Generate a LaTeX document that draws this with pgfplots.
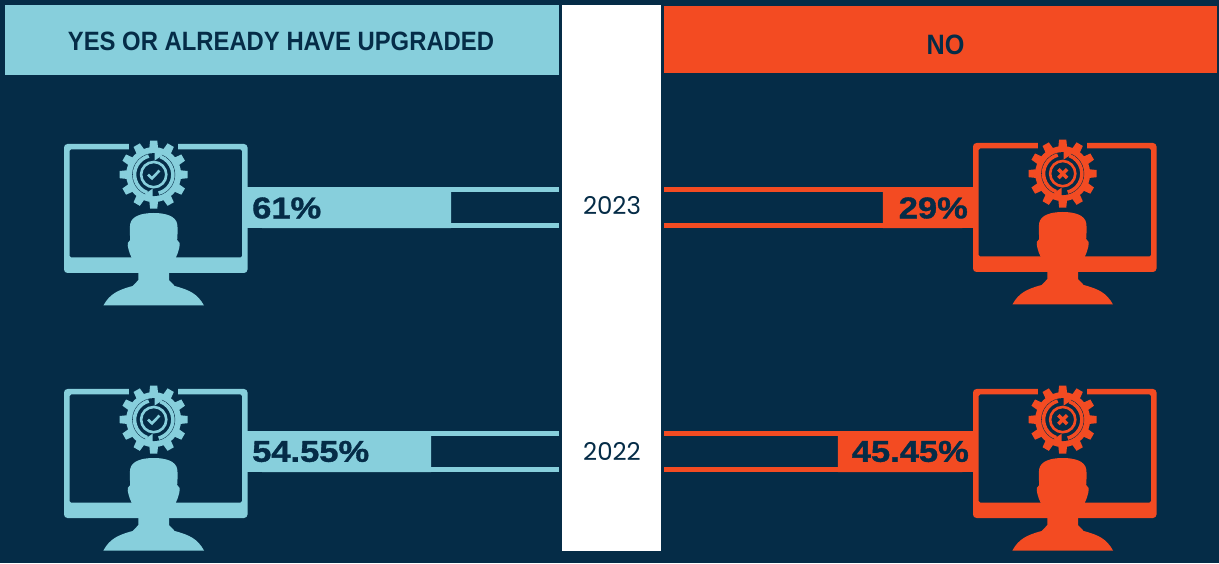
\documentclass[border=0pt]{standalone}
\usepackage{pgfplots}
\pgfplotsset{compat=1.18}
\usepackage{fontspec}
\setmainfont{Liberation Sans}
\newfontfamily\headf[FakeStretch=0.9]{Liberation Sans Bold}
\newfontfamily\pctf[FakeStretch=1.15,FakeBold=1.2]{Liberation Sans Bold}
\newfontfamily\yearf{Poppins}
\definecolor{bg}{HTML}{052C47}
\definecolor{teal}{HTML}{87CFDC}
\definecolor{org}{HTML}{F34B22}
\pgfplotstableread{
y value
207.5 61
451.5 54.55
}\yesdata
\pgfplotstableread{
y value
207.5 29
451.5 45.45
}\nodata
% #1 origin x, #2 origin y, #3 colour, #4 inner mark
\newcommand{\icon}[4]{%
\begin{scope}[shift={(#1,#2)}]
  \fill[#3,even odd rule,rounded corners=3.5] (0,0) rectangle (183.5,129) [rounded corners=1.5] (5.5,5.5) rectangle (178,113.5);
  \fill[bg] (65.2,-1) rectangle (114.2,7);
  \begin{scope}[shift={(89.7,30.6)}]
    \foreach \a in {0,30,...,330}{
      \fill[#3,rotate=\a] (-4.6,24) -- (-3.6,34) -- (3.6,34) -- (4.6,24) -- cycle;
    }
    \fill[#3] (0,0) circle (27.5);
    \fill[bg] (0,0) circle (21.5);
    \foreach \r in {0,180}{
      \begin{scope}[rotate=\r]
        \draw[#3,line width=3.6] (-105:19.2) arc[start angle=-105,end angle=-250,radius=19.2];
        \fill[#3] (1,-14) -- (9,-19.6) -- (1,-25) -- cycle;
      \end{scope}
    }
    \draw[#3,line width=2.6] (0,0) circle (12.6);
    #4
  \end{scope}
  \begin{scope}[shift={(89.7,0)}]
    \fill[#3] (0,69) .. controls (12,69) and (22,72) .. (23.5,80) .. controls (24.5,86) and (23.5,92) .. (23.5,96)
      .. controls (26,97) and (26.5,100) .. (25.5,104) .. controls (24.5,108) and (23.5,111) .. (22,114)
      .. controls (20,120) and (15.3,124) .. (15.3,128) -- (15.3,136) -- (21,142)
      .. controls (36,146) and (44,150) .. (50.3,161.5) -- (-50.3,161.5)
      .. controls (-44,150) and (-36,146) .. (-21,142) -- (-15.3,136) -- (-15.3,128)
      .. controls (-15.3,124) and (-20,120) .. (-22,114) .. controls (-23.5,111) and (-24.5,108) .. (-25.5,104)
      .. controls (-26.5,100) and (-26,97) .. (-23.5,96) .. controls (-23.5,92) and (-24.5,86) .. (-23.5,80)
      .. controls (-22,72) and (-12,69) .. (0,69) -- cycle;
  \end{scope}
\end{scope}}
\newcommand{\checkmk}[1]{\draw[#1,line width=2.6] (-5.7,0) -- (-1.7,3.8) -- (5.7,-4);}
\newcommand{\crossmk}[1]{\draw[#1,line width=3.6] (-4.4,-4.4) -- (4.4,4.4) (-4.4,4.4) -- (4.4,-4.4);}
\begin{document}
\begin{tikzpicture}[x=1pt,y=1pt]
\path[use as bounding box,fill=bg] (0,0) rectangle (1219,563);
\begin{scope}[yshift=563pt,yscale=-1]
  \fill[teal] (5,5) rectangle (559,75);
  \fill[org] (664,6) rectangle (1217,73);
  \fill[white] (562,5) rectangle (661,551);
  \foreach \t in {187,431}{
    \fill[teal] (247,\t) rectangle (559,\t+5);
    \fill[teal] (247,\t+36) rectangle (559,\t+41);
    \fill[teal] (247,\t) rectangle (263,\t+41);
    \fill[org] (664,\t) rectangle (973,\t+5);
    \fill[org] (664,\t+36) rectangle (973,\t+41);
    \fill[org] (961,\t) rectangle (973,\t+41);
  }
\end{scope}
\begin{axis}[at={(247pt,0pt)},scale only axis,width=313pt,height=563pt,hide axis,
  xmin=-4.84,xmax=96.13,ymin=0,ymax=563,y dir=reverse]
  \addplot[xbar,bar width=41pt,bar shift=0pt,fill=teal,draw=none] table[x=value,y=y] {\yesdata};
\end{axis}
\begin{axis}[at={(664pt,0pt)},scale only axis,width=309pt,height=563pt,hide axis,
  xmin=-3.91,xmax=109.04,ymin=0,ymax=563,y dir=reverse,x dir=reverse]
  \addplot[xbar,bar width=41pt,bar shift=0pt,fill=org,draw=none] table[x=value,y=y] {\nodata};
\end{axis}
\begin{scope}[yshift=563pt,yscale=-1]
  \icon{64}{144}{teal}{\checkmk{teal}}
  \icon{64}{389}{teal}{\checkmk{teal}}
  \icon{973}{143}{org}{\crossmk{org}}
  \icon{973}{389}{org}{\crossmk{org}}
  \node[text=bg,inner sep=0pt] at (281,41) {\headf\fontsize{26.5}{26.5}\selectfont YES OR ALREADY HAVE UPGRADED};
  \node[text=bg,inner sep=0pt] at (945.5,45) {\headf\fontsize{28}{28}\selectfont NO};
  \node[text=bg,inner sep=0pt] at (612,206) {\yearf\fontsize{24.5}{24.5}\selectfont 2023};
  \node[text=bg,inner sep=0pt] at (612,451) {\yearf\fontsize{24.5}{24.5}\selectfont 2022};
  \node[text=bg,inner sep=0pt,anchor=west] at (252,208) {\pctf\fontsize{30}{30}\selectfont 61\%};
  \node[text=bg,inner sep=0pt,anchor=west] at (252,451.5) {\pctf\fontsize{30}{30}\selectfont 54.55\%};
  \node[text=bg,inner sep=0pt,anchor=east] at (968,208) {\pctf\fontsize{30}{30}\selectfont 29\%};
  \node[text=bg,inner sep=0pt,anchor=east] at (969,451.5) {\pctf\fontsize{30}{30}\selectfont 45.45\%};
\end{scope}
\end{tikzpicture}
\end{document}
